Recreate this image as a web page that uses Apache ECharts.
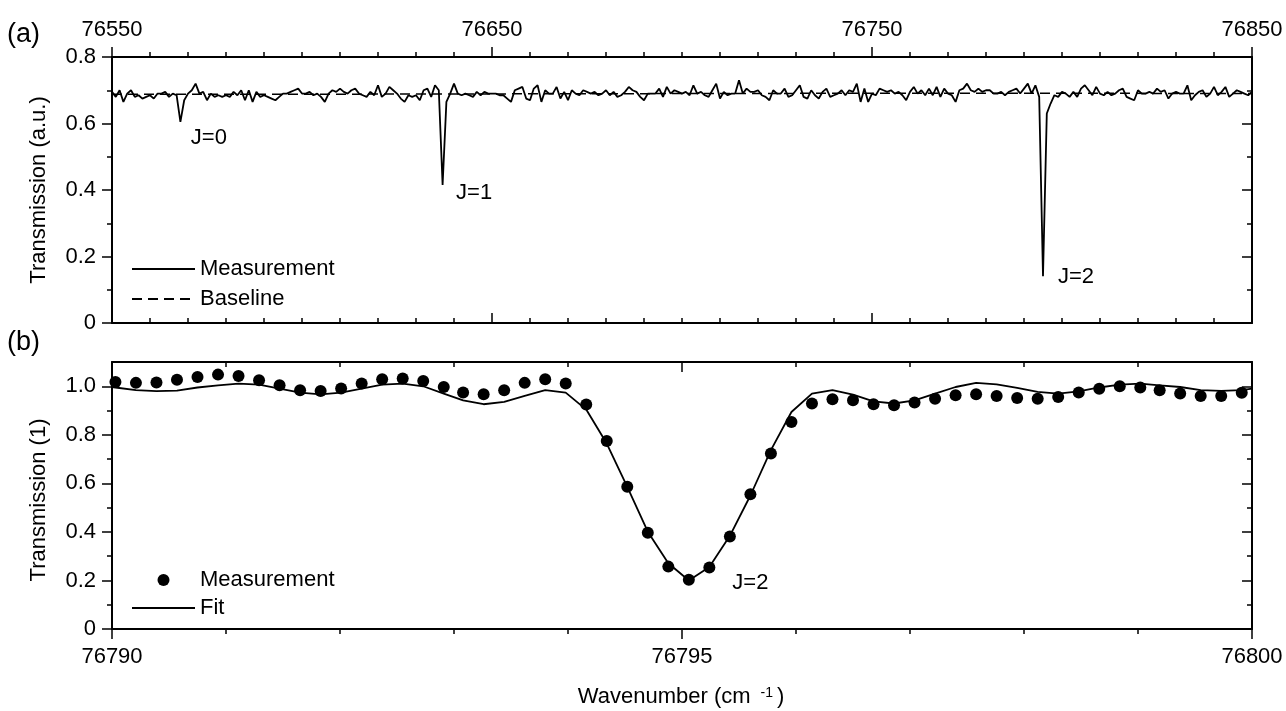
<!DOCTYPE html>
<html><head><meta charset="utf-8">
<script src="https://cdn.jsdelivr.net/npm/echarts@6/dist/echarts.min.js"></script>
<style>html,body{margin:0;padding:0;background:#fff}#c{width:1286px;height:711px}</style>
</head><body><div id="c"></div>
<script>
// ---------- Panel (a): wide scan, 1 cm-1 sampling starting at topStart ----------
const topStart = 76550;
const topStep = 1;
const topTransmission = [
0.695,0.68,0.70,0.665,0.69,0.70,0.68,0.685,0.675,0.68,
0.685,0.675,0.69,0.69,0.695,0.68,0.69,0.685,0.605,0.67,
0.69,0.70,0.72,0.69,0.695,0.67,0.69,0.68,0.685,0.68,
0.685,0.68,0.695,0.685,0.70,0.67,0.70,0.665,0.695,0.68,
0.685,0.68,0.675,0.67,0.68,0.69,0.69,0.695,0.70,0.705,
0.69,
0.69,0.695,0.685,0.69,0.68,0.665,0.69,0.70,0.695,0.705,
0.695,0.69,0.70,0.705,0.69,0.685,0.68,0.695,0.685,0.715,
0.68,0.69,0.71,0.70,0.69,0.675,0.665,0.685,0.68,0.685,
0.67,0.70,0.705,0.68,0.715,0.70,0.415,0.665,0.69,0.72,
0.69,0.685,0.69,0.685,0.68,0.695,0.685,0.695,0.69,0.69,
0.69,0.685,0.685,0.675,0.665,0.70,0.705,0.71,0.675,0.67,
0.705,0.715,0.665,0.70,0.69,0.69,0.71,0.675,0.695,0.67,
0.70,0.69,0.685,0.70,0.695,0.69,0.695,0.685,0.69,0.70,
0.685,0.695,0.68,0.685,0.695,0.71,0.70,0.695,0.68,0.67,
0.69,0.69,0.69,0.705,0.68,0.71,0.69,0.70,0.695,0.69,
0.695,0.685,0.715,0.69,0.695,0.685,0.68,0.70,0.72,0.675,
0.695,0.685,0.69,0.69,0.73,0.69,0.705,0.695,0.695,0.70,
0.685,0.68,0.67,0.70,0.69,0.69,0.705,0.68,0.685,0.70,
0.715,0.68,0.675,0.70,0.685,0.675,0.695,0.705,0.68,0.685,
0.69,0.70,0.685,0.70,0.695,0.72,0.665,0.705,0.665,0.69,
0.685,0.705,0.70,0.695,0.70,0.69,0.695,0.685,0.67,0.695,
0.71,0.69,0.70,0.685,0.705,0.685,0.71,0.68,0.705,0.69,
0.685,0.665,0.70,0.705,0.72,0.70,0.695,0.705,0.695,0.70,
0.70,0.69,0.69,0.695,0.685,0.695,0.70,0.705,0.69,0.705,
0.72,0.69,0.715,0.68,0.141,0.63,0.66,0.685,0.68,0.695,
0.69,0.68,0.695,0.68,0.705,0.715,0.70,0.685,0.71,0.69,
0.685,0.695,0.685,0.69,0.70,0.705,0.68,0.675,0.67,0.70,
0.69,0.69,0.695,0.69,0.705,0.695,0.70,0.675,0.69,0.695,
0.69,0.69,0.715,0.67,0.685,0.695,0.70,0.68,0.69,0.71,
0.685,0.695,0.71,0.68,0.69,0.70,0.695,0.69,0.685,0.695
];
const baselineWavenumber = [76550, 76600, 76650, 76700, 76750, 76800, 76850];
const baselineTransmission = [0.688, 0.688, 0.689, 0.690, 0.691, 0.691, 0.690];

// ---------- Panel (b): J=2 line ----------
const bottomWavenumber = [
76790.03,76790.21,76790.39,76790.57,76790.75,76790.93,76791.11,76791.29,76791.47,76791.65,
76791.83,76792.01,76792.19,76792.37,76792.55,76792.73,76792.91,76793.08,76793.26,76793.44,
76793.62,76793.80,76793.98,76794.16,76794.34,76794.52,76794.70,76794.88,76795.06,76795.24,
76795.42,76795.60,76795.78,76795.96,76796.14,76796.32,76796.50,76796.68,76796.86,76797.04,
76797.22,76797.40,76797.58,76797.76,76797.94,76798.12,76798.30,76798.48,76798.66,76798.84,
76799.02,76799.19,76799.37,76799.55,76799.73,76799.91];
const bottomTransmission = [
1.018,1.014,1.016,1.027,1.038,1.048,1.042,1.025,1.004,0.984,
0.981,0.991,1.011,1.029,1.032,1.022,0.997,0.974,0.967,0.984,
1.014,1.029,1.011,0.925,0.775,0.586,0.397,0.257,0.203,0.253,
0.381,0.555,0.723,0.853,0.929,0.947,0.942,0.926,0.922,0.933,
0.949,0.963,0.967,0.960,0.952,0.949,0.956,0.974,0.990,1.000,
0.995,0.984,0.970,0.960,0.960,0.973];
const fitWavenumber = [76790].concat(bottomWavenumber, [76800]);
const fitTransmission = [
0.997,
0.995,0.984,0.980,0.982,0.995,1.004,1.011,1.007,0.990,0.974,
0.967,0.974,0.990,1.007,1.011,1.000,0.970,0.942,0.926,0.936,
0.960,0.984,0.974,0.904,0.764,0.586,0.401,0.271,0.200,0.255,
0.384,0.550,0.737,0.894,0.970,0.984,0.966,0.938,0.929,0.942,
0.970,0.997,1.014,1.008,0.993,0.977,0.970,0.979,0.995,1.007,
1.011,1.004,0.997,0.984,0.981,0.984,
0.990];

// ---------- ticks & labels ----------
const topXMajor = [76550, 76650, 76750, 76850];
const topXMinor = [];
for (let v = 76560; v < 76850; v += 10) if ((v - 76550) % 100 !== 0) topXMinor.push(v);
const topYMajor = [0, 0.2, 0.4, 0.6, 0.8];
const topYMinor = [0.1, 0.3, 0.5, 0.7];
const bottomXMajor = [76790, 76795, 76800];
const bottomXMinor = [76791, 76792, 76793, 76794, 76796, 76797, 76798, 76799];
const bottomYMajor = [0, 0.2, 0.4, 0.6, 0.8, 1.0];
const bottomYMinor = [0.1, 0.3, 0.5, 0.7, 0.9];

const topAnnotations = [
  {name: 'J=0', x: 76575.5, y: 0.556},
  {name: 'J=1', x: 76645.3, y: 0.391},
  {name: 'J=2', x: 76803.7, y: 0.138}
];
const bottomAnnotations = [
  {name: 'J=2', x: 76795.6, y: 0.188}
];

// ---------- build ----------
const FONT = '"Liberation Sans", Arial, Helvetica, sans-serif';
const BLACK = '#000';
const HIDDEN = {color: 'rgba(0,0,0,0)', borderWidth: 0, opacity: 0};
function fmt(v) { return v === 0 ? '0' : (Math.abs(v) < 10 ? v.toFixed(1) : String(v)); }
function mkAxis(grid, position, min, max, values, len, inside, showLine, showLabel, margin) {
  return {
    type: 'value', gridIndex: grid, position: position, min: min, max: max, scale: true,
    axisLine: {show: showLine, onZero: false, lineStyle: {color: BLACK, width: 2}},
    axisTick: {show: true, inside: inside, length: len, customValues: values, lineStyle: {color: BLACK, width: 1.5}},
    axisLabel: showLabel ? {show: true, customValues: values, formatter: fmt, color: BLACK,
      fontSize: 22, fontFamily: FONT, margin: margin} : {show: false},
    splitLine: {show: false}, minorTick: {show: false}, minorSplitLine: {show: false}
  };
}
const topData = topTransmission.map((v, i) => [topStart + i * topStep, v]);
const baseData = baselineWavenumber.map((x, i) => [x, baselineTransmission[i]]);
const measData = bottomWavenumber.map((x, i) => [x, bottomTransmission[i]]);
const fitData = fitWavenumber.map((x, i) => [x, fitTransmission[i]]);
function mp(list) {
  return {
    symbol: 'circle', symbolSize: 0, itemStyle: {color: 'rgba(0,0,0,0)'},
    label: {show: true, position: 'inside', formatter: '{b}', color: BLACK, fontSize: 22, fontFamily: FONT},
    data: list.map(a => ({name: a.name, coord: [a.x, a.y]}))
  };
}

const chart = echarts.init(document.getElementById('c'), null, {renderer: 'canvas'});
chart.setOption({
  animation: false,
  backgroundColor: '#fff',
  textStyle: {fontFamily: FONT, color: BLACK},
  grid: [
    {left: 112, top: 57, width: 1140, height: 266},
    {left: 112, top: 362, width: 1140, height: 267}
  ],
  xAxis: [
    mkAxis(0, 'top', 76550, 76850, topXMajor, 10, false, true, true, 16),
    mkAxis(0, 'top', 76550, 76850, topXMinor, 5, false, false, false),
    mkAxis(0, 'bottom', 76550, 76850, topXMajor, 10, true, true, false),
    mkAxis(0, 'bottom', 76550, 76850, topXMinor, 5, true, false, false),
    mkAxis(1, 'bottom', 76790, 76800, bottomXMajor, 10, false, true, true, 17),
    mkAxis(1, 'bottom', 76790, 76800, bottomXMinor, 5, false, false, false),
    mkAxis(1, 'top', 76790, 76800, bottomXMajor, 10, true, true, false),
    mkAxis(1, 'top', 76790, 76800, bottomXMinor, 5, true, false, false)
  ],
  yAxis: [
    mkAxis(0, 'left', 0, 0.8, topYMajor, 10, false, true, true, 16),
    mkAxis(0, 'left', 0, 0.8, topYMinor, 5, false, false, false),
    mkAxis(0, 'right', 0, 0.8, topYMajor, 10, true, true, false),
    mkAxis(0, 'right', 0, 0.8, topYMinor, 5, true, false, false),
    mkAxis(1, 'left', 0, 1.1, bottomYMajor, 10, false, true, true, 16),
    mkAxis(1, 'left', 0, 1.1, bottomYMinor, 5, false, false, false),
    mkAxis(1, 'right', 0, 1.1, bottomYMajor, 10, true, true, false),
    mkAxis(1, 'right', 0, 1.1, bottomYMinor, 5, true, false, false)
  ],
  legend: [
    {data: [{name: 'Measurement', itemStyle: HIDDEN}, {name: 'Baseline', itemStyle: HIDDEN}],
     left: 126, top: 253, orient: 'vertical',
     itemWidth: 63, itemHeight: 14, itemGap: 8, selectedMode: false,
     textStyle: {fontSize: 22, color: BLACK, fontFamily: FONT}},
    {data: [{name: 'Measurement', icon: 'circle', itemStyle: {color: BLACK, opacity: 1}},
            {name: 'Fit', itemStyle: HIDDEN}],
     left: 126, top: 564, orient: 'vertical',
     itemWidth: 63, itemHeight: 12, itemGap: 6, selectedMode: false,
     textStyle: {fontSize: 22, color: BLACK, fontFamily: FONT}}
  ],
  series: [
    {name: 'Baseline', type: 'line', xAxisIndex: 0, yAxisIndex: 0, data: baseData, symbol: 'none',
     lineStyle: {color: BLACK, width: 1.5, type: [10, 6]}, itemStyle: {color: BLACK}, z: 1},
    {name: 'Measurement', type: 'line', xAxisIndex: 0, yAxisIndex: 0, data: topData, symbol: 'none',
     sampling: null, lineStyle: {color: BLACK, width: 1.8}, itemStyle: {color: BLACK}, z: 2,
     markPoint: mp(topAnnotations)},
    {name: 'Fit', type: 'line', xAxisIndex: 4, yAxisIndex: 4, data: fitData, symbol: 'none',
     lineStyle: {color: BLACK, width: 1.8}, itemStyle: {color: BLACK}, z: 2,
     markPoint: mp(bottomAnnotations)},
    {name: 'Measurement', type: 'scatter', xAxisIndex: 4, yAxisIndex: 4, data: measData,
     symbol: 'circle', symbolSize: 12, itemStyle: {color: BLACK, opacity: 1}, z: 3}
  ],
  graphic: [
    {type: 'text', left: 7, top: 21, style: {text: '(a)', font: '27px ' + FONT, fill: BLACK}},
    {type: 'text', left: 7, top: 329, style: {text: '(b)', font: '27px ' + FONT, fill: BLACK}},
    {type: 'text', x: 39, y: 190, rotation: Math.PI / 2,
     style: {text: 'Transmission (a.u.)', font: '22px ' + FONT, fill: BLACK, align: 'center', verticalAlign: 'middle', textAlign: 'center', textVerticalAlign: 'middle'}},
    {type: 'text', x: 39, y: 500, rotation: Math.PI / 2,
     style: {text: 'Transmission (1)', font: '22px ' + FONT, fill: BLACK, align: 'center', verticalAlign: 'middle', textAlign: 'center', textVerticalAlign: 'middle'}},
    {type: 'text', x: 681, y: 697,
     style: {text: '{a|Wavenumber (cm }{s| -1 }{a|)}', fill: BLACK, align: 'center', verticalAlign: 'middle', textAlign: 'center', textVerticalAlign: 'middle',
       rich: {a: {fontSize: 22, fontFamily: FONT, fill: BLACK, verticalAlign: 'bottom'},
              s: {fontSize: 14, fontFamily: FONT, fill: BLACK, verticalAlign: 'top'}}}}
  ]
});
</script>
</body></html>
